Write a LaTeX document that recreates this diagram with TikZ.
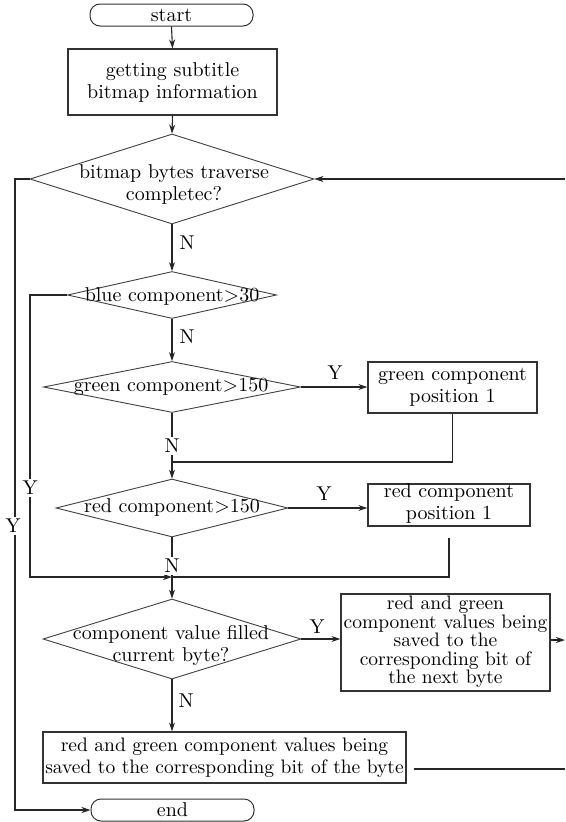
\documentclass[tikz,border=0pt]{standalone}
\usepackage{fontspec}
\setmainfont{lmroman10-regular}[Extension=.otf]
\usetikzlibrary{shapes.geometric,arrows.meta}

\tikzset{
  txt/.style={font=\fontsize{20}{22}\selectfont, align=center, inner sep=0pt},
  boxnode/.style={draw=black!80, line width=1.2pt, rectangle, inner sep=0pt},
  termnode/.style={draw=black!80, line width=1pt, rectangle, rounded corners=10pt, inner sep=0pt},
  dianode/.style={draw=black!75, line width=0.9pt, diamond, inner sep=0pt},
  flow/.style={draw=black!85, line width=1.1pt},
  arr/.style={flow, -{Stealth[length=9pt,width=6pt]}},
  tag/.style={font=\fontsize{20}{22}\selectfont, inner sep=1.5pt},
  gaptag/.style={tag, fill=white, inner sep=2.5pt}
}

\begin{document}
\begin{tikzpicture}[x=1pt, y=-1pt]
\useasboundingbox (0,0) rectangle (565,822);

% terminals and process boxes
\node[termnode, minimum width=163pt, minimum height=22pt] (start) at (171.5,15) {};
\node[txt] at (start) {start};
\node[boxnode, minimum width=209pt, minimum height=66pt] (get) at (172.5,82) {};
\node[txt] at (get) {getting subtitle\\bitmap information};

% decisions
\node[dianode, minimum width=284pt, minimum height=90pt] (d1) at (172,179) {};
\node[txt] at (174,184) {bitmap bytes traverse\\completec?};
\node[dianode, minimum width=209pt, minimum height=47pt] (d2) at (172,295) {};
\node[txt] at (172,296) {blue component>30};
\node[dianode, minimum width=257pt, minimum height=51pt] (d3) at (172,387) {};
\node[txt] at (171,387) {green component>150};
\node[dianode, minimum width=232pt, minimum height=58pt] (d4) at (172,508) {};
\node[txt] at (172,507) {red component>150};
\node[dianode, minimum width=258pt, minimum height=80pt] (d5) at (172,639) {};
\node[txt] at (171,645) {component value filled\\current byte?};

% side boxes
\node[boxnode, minimum width=169pt, minimum height=51pt] (gbox) at (452.5,387.5) {};
\node[txt] at (gbox) {green component\\position 1};
\node[boxnode, minimum width=162pt, minimum height=42pt] (rbox) at (449,505) {};
\node[txt] at (449,503) {red component\\position 1};
\node[boxnode, minimum width=209pt, minimum height=97pt] (nbox) at (445.5,642.5) {};
\node[txt, font=\fontsize{19.5}{18.5}\selectfont] at (445.5,642) {red and green\\component values being\\saved to the\\corresponding bit of\\the next byte};
\node[boxnode, minimum width=363pt, minimum height=51pt] (bbox) at (224.5,757.5) {};
\node[txt, font=\fontsize{19.5}{22}\selectfont] at (bbox) {red and green component values being\\saved to the corresponding bit of the byte};
\node[termnode, minimum width=163pt, minimum height=22pt] (end) at (172.5,810) {};
\node[txt] at (end) {end};

% junction and edge points
\coordinate (j1) at (172,462);
\coordinate (j2) at (172,577);
\coordinate (c1) at (15,179);
\coordinate (c2) at (30,577);
\coordinate (e1) at (565,640);
\coordinate (e2) at (565,769);
\coordinate (e3) at (565,179);

% main flow
\draw[arr] (start.south) -- (get.north);
\draw[arr] (get.south) -- (d1.north);
\draw[arr] (d1.south) -- (d2.north);
\draw[arr] (d2.south) -- (d3.north);
\draw[arr] (d3.south) -- (d4.north);
\draw[arr] (d4.south) -- (d5.north);
\draw[arr] (d5.south) -- (d5.south |- bbox.north);

% yes branches
\draw[arr] (d3.east) -- (d3.east -| gbox.west);
\draw[flow] (gbox.south) |- (j1);
\draw[arr] (d4.east) -- (d4.east -| rbox.west);
\draw[flow, shorten <=11pt] (rbox.south) |- (j2);
\draw[arr] (d2.west) -| (c2) -- (j2);
\draw[arr] (d5.east) -- (d5.east -| nbox.west);
\draw[arr] (nbox.east |- e1) -- (e1);

% loop back and exit
\draw[flow, shorten <=7pt] (bbox.east |- e2) -- (e2);
\draw[arr] (e3) -- (d1.east);
\draw[arr] (d1.west) -- (c1) |- (end.west);

% branch labels
\node[tag] at (187,243) {N};
\node[tag] at (187,337) {N};
\node[gaptag] at (172,446) {N};
\node[gaptag] at (172,566) {N};
\node[tag] at (186,701) {N};
\node[tag] at (335,373) {Y};
\node[tag] at (324,494) {Y};
\node[tag] at (317,627) {Y};
\node[gaptag] at (30,488) {Y};
\node[gaptag] at (13,526) {Y};
\end{tikzpicture}
\end{document}
